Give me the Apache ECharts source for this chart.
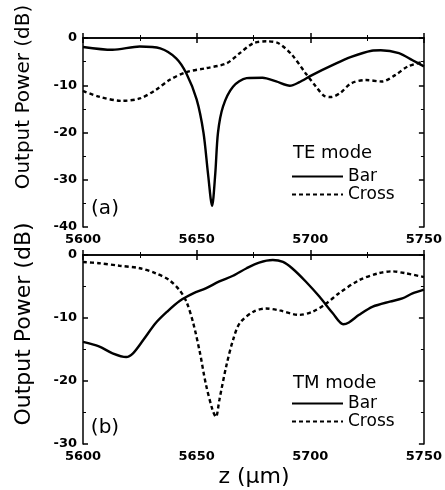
<!DOCTYPE html>
<html>
<head>
<meta charset="utf-8">
<script src="https://cdn.jsdelivr.net/npm/echarts@6/dist/echarts.min.js"></script>
<style>
  html, body { margin: 0; padding: 0; background: #fff; }
  #chart { width: 445px; height: 490px; }
</style>
</head>
<body>
<div id="chart"></div>
<script>
// values: z in um, output power in dB
const teBarZ = [5600, 5613, 5625, 5634, 5641, 5645.5, 5650, 5653, 5655, 5656.8, 5658.2, 5659.4, 5661.6, 5666, 5672, 5679, 5685, 5691, 5695, 5701, 5710, 5718, 5727, 5731, 5739, 5745, 5750];
const teBarDb = [-1.9, -2.5, -1.8, -2.2, -4.3, -7.5, -13, -20, -28.7, -35.5, -28.7, -20, -14.5, -10.3, -8.5, -8.4, -9.2, -10.1, -9.4, -7.8, -5.7, -4, -2.7, -2.6, -3.2, -4.7, -6];

const teCrossZ = [5600, 5607, 5617, 5625, 5632, 5638, 5645.5, 5654, 5663, 5669, 5675, 5681, 5686, 5692, 5698, 5702.5, 5706, 5709, 5713, 5718, 5724.5, 5731.5, 5737.5, 5743, 5750];
const teCrossDb = [-11.2, -12.4, -13.3, -12.8, -11, -8.9, -7.2, -6.4, -5.4, -3.2, -1.1, -0.7, -1.1, -3.6, -7.5, -10.3, -12.2, -12.5, -11.7, -9.6, -8.9, -9.2, -7.8, -6, -5];

const tmBarZ = [5600, 5607, 5613, 5619, 5622, 5626.5, 5632, 5637, 5642.5, 5648.5, 5654, 5660, 5666, 5672, 5677.5, 5683.5, 5688, 5692, 5698, 5704, 5710, 5714.5, 5717, 5721.5, 5727.5, 5735, 5740.5, 5745, 5750];
const tmBarDb = [-13.8, -14.5, -15.6, -16.2, -15.6, -13.5, -10.8, -9.0, -7.3, -6.1, -5.3, -4.2, -3.3, -2.1, -1.2, -0.8, -1.1, -2.1, -4.2, -6.6, -9.3, -11, -10.7, -9.5, -8.2, -7.4, -6.9, -6.1, -5.5];

const tmCrossZ = [5600, 5607, 5616, 5625, 5632, 5638, 5642.5, 5645.5, 5648.5, 5651.5, 5654, 5657, 5658.5, 5660, 5663, 5666, 5669, 5675, 5680.5, 5686.5, 5695, 5701, 5707, 5712.5, 5721.5, 5730, 5736, 5742, 5750];
const tmCrossDb = [-1.1, -1.3, -1.7, -2.1, -2.9, -4.0, -5.6, -7.4, -10.8, -15.6, -20.4, -24.6, -25.7, -23, -17.7, -13.5, -10.8, -9.0, -8.5, -8.8, -9.5, -9.0, -7.7, -6.1, -4.0, -2.9, -2.6, -2.9, -3.5];

const pair = (xs, ys) => xs.map((x, i) => [x, ys[i]]);

const chart = echarts.init(document.getElementById('chart'));

const tickFont = { color: '#000', fontFamily: 'DejaVu Sans', fontWeight: 'bold', fontSize: 13, formatter: v => String(v) };
const frame = { show: true, lineStyle: { color: '#000', width: 1.5 } };

function xAx(grid, pos, labels) {
  return {
    type: 'value', gridIndex: grid, position: pos, min: 5600, max: 5750, interval: 50,
    axisLine: frame,
    axisTick: { show: true, inside: true, length: 5, lineStyle: { color: '#000', width: 1.5 } },
    minorTick: { show: true, splitNumber: 2, length: 3, lineStyle: { color: '#000' } },
    axisLabel: labels ? Object.assign({ margin: 6 }, tickFont) : { show: false },
    splitLine: { show: false }
  };
}
function yAx(grid, pos, min, labels) {
  return {
    type: 'value', gridIndex: grid, position: pos, min: min, max: 0, interval: 10,
    axisLine: frame,
    axisTick: { show: true, inside: true, length: 5, lineStyle: { color: '#000', width: 1.5 } },
    minorTick: { show: true, splitNumber: 2, length: 3, lineStyle: { color: '#000' } },
    axisLabel: labels ? Object.assign({ margin: 6 }, tickFont) : { show: false },
    splitLine: { show: false }
  };
}

function line(name, x, y, xi, yi, dashed) {
  return {
    name: name, type: 'line', xAxisIndex: xi, yAxisIndex: yi,
    data: pair(x, y), symbol: 'none', smooth: 0.3,
    lineStyle: { color: '#000', width: 2.4, type: dashed ? [4, 3] : 'solid' },
    itemStyle: { color: '#000' }
  };
}

const legendStyle = {
  orient: 'vertical', padding: 0, itemWidth: 51, itemHeight: 10, itemGap: 1,
  itemStyle: { opacity: 0 },
  textStyle: { color: '#000', fontFamily: 'DejaVu Sans', fontSize: 17 },
  data: ['Bar', 'Cross']
};

const txt = (x, y, s, size, rot, align) => ({
  type: 'text', x: x, y: y, rotation: rot || 0,
  style: { text: s, fontFamily: 'DejaVu Sans', fontSize: size, fill: '#000', align: align || 'center', verticalAlign: 'middle' }
});

chart.setOption({
  animation: false,
  grid: [
    { left: 83, top: 38, width: 342, height: 189 },
    { left: 83, top: 255, width: 341, height: 189 }
  ],
  xAxis: [xAx(0, 'bottom', true), xAx(1, 'bottom', true), xAx(0, 'top', false), xAx(1, 'top', false)],
  yAxis: [yAx(0, 'left', -40, true), yAx(1, 'left', -30, true), yAx(0, 'right', -40, false), yAx(1, 'right', -30, false)],
  legend: [
    Object.assign({ left: 291, top: 168 }, legendStyle),
    Object.assign({ left: 291, top: 395 }, legendStyle)
  ],
  graphic: [
    txt(24, 97, 'Output Power (dB)', 20, Math.PI / 2),
    txt(24, 324, 'Output Power (dB)', 22, Math.PI / 2),
    txt(254, 477, 'z (μm)', 22),
    txt(105, 209, '(a)', 20),
    txt(105, 428, '(b)', 20),
    txt(293, 153, 'TE mode', 18, 0, 'left'),
    txt(293, 383, 'TM mode', 18, 0, 'left')
  ],
  series: [
    line('Bar', teBarZ, teBarDb, 0, 0, false),
    line('Cross', teCrossZ, teCrossDb, 0, 0, true),
    line('Bar', tmBarZ, tmBarDb, 1, 1, false),
    line('Cross', tmCrossZ, tmCrossDb, 1, 1, true)
  ]
});
</script>
</body>
</html>
